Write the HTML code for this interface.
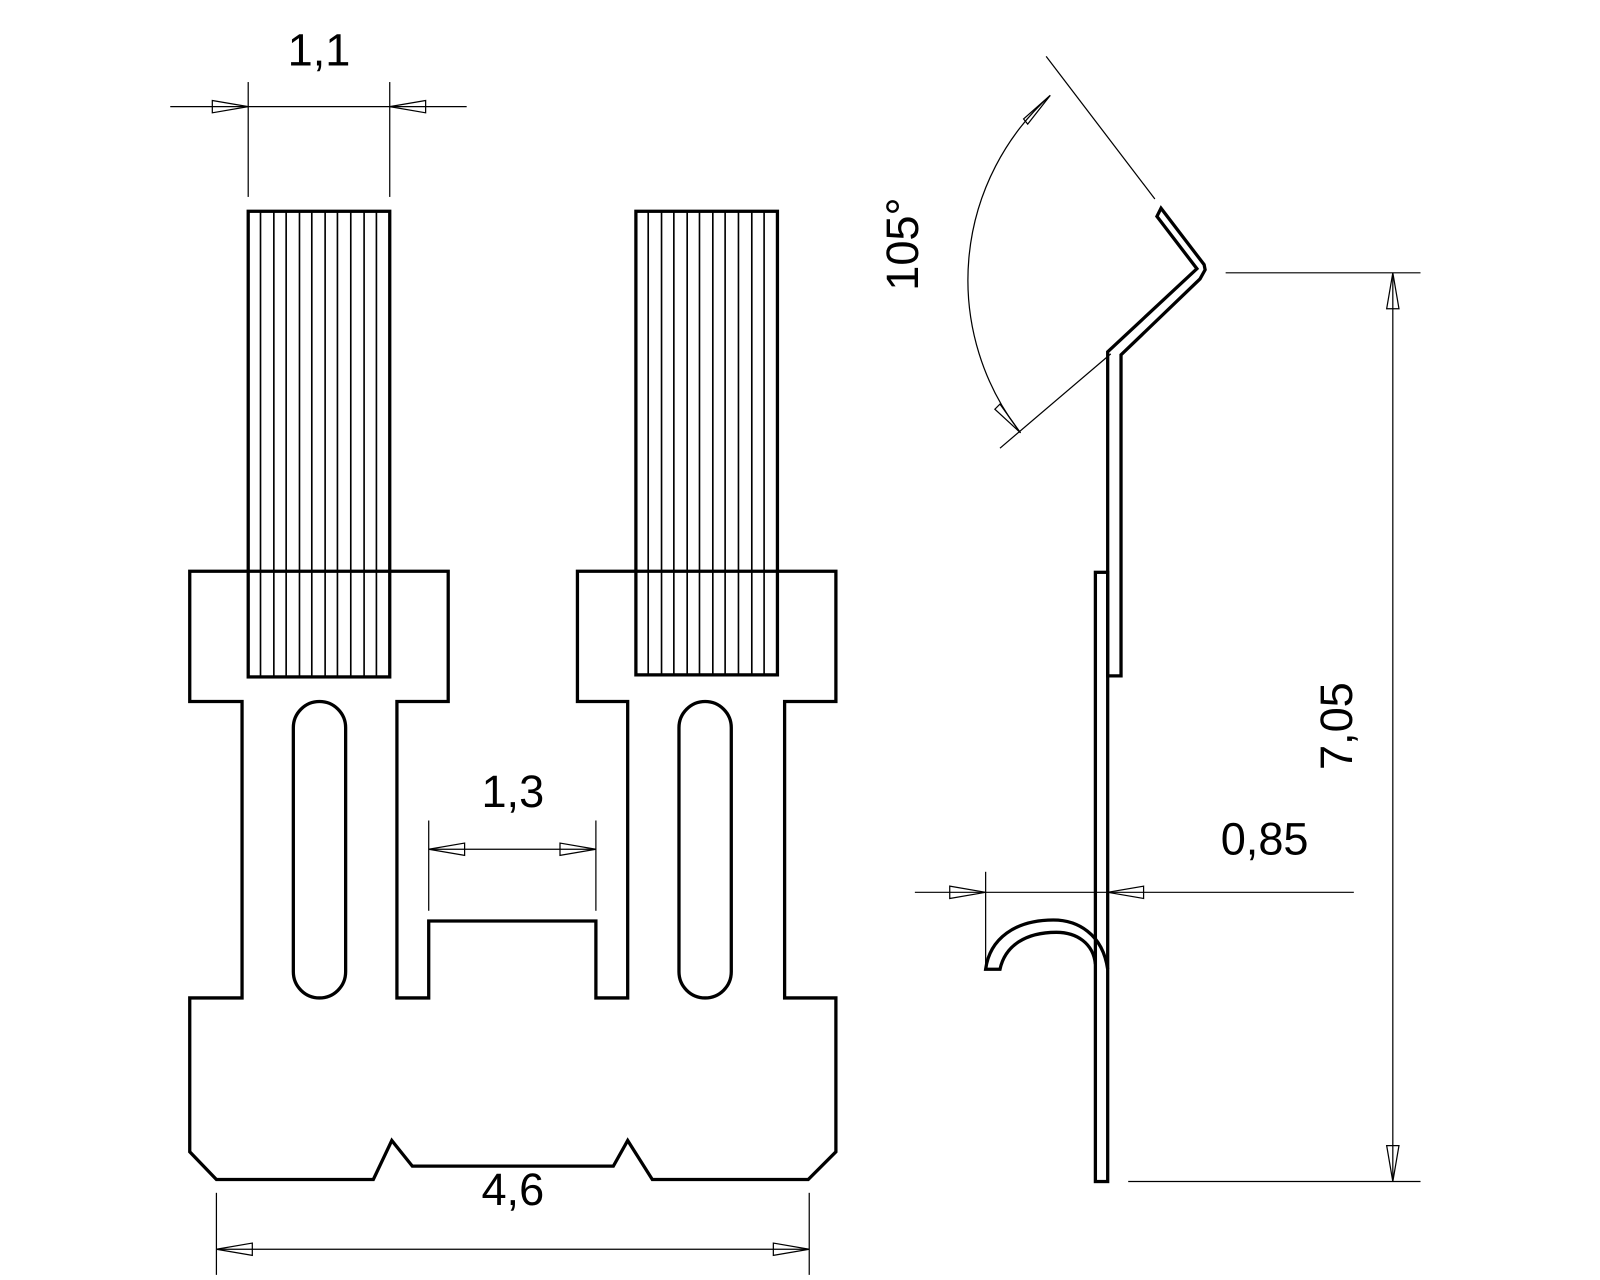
<!DOCTYPE html>
<html><head><meta charset="utf-8"><style>
html,body{margin:0;padding:0;background:#fff;}
svg{display:block;}
text{font-family:"Liberation Sans","DejaVu Sans",sans-serif;font-size:44px;fill:#000;}
</style></head><body>
<svg width="1600" height="1280" viewBox="0 0 1560 1248" xmlns="http://www.w3.org/2000/svg">
<g fill="none" stroke="#000" stroke-width="1.2">
<!-- dim 1,1 -->
<line x1="242" y1="80" x2="242" y2="192"/><line x1="380" y1="80" x2="380" y2="192"/>
<line x1="166" y1="104" x2="455" y2="104"/>
<polygon points="242,104 207,98 207,110"/><polygon points="380,104 415,98 415,110"/>
<!-- dim 1,3 -->
<line x1="418" y1="800" x2="418" y2="888"/><line x1="581" y1="800" x2="581" y2="888"/>
<line x1="418" y1="828" x2="581" y2="828"/>
<polygon points="418,828 453,822 453,834"/><polygon points="581,828 546,822 546,834"/>
<!-- dim 4,6 -->
<line x1="211" y1="1163" x2="211" y2="1243"/><line x1="789" y1="1163" x2="789" y2="1243"/>
<line x1="211" y1="1218" x2="789" y2="1218"/>
<polygon points="211,1218 246,1212 246,1224"/><polygon points="789,1218 754,1212 754,1224"/>
<!-- dim 0,85 -->
<line x1="961" y1="850" x2="961" y2="942"/>
<line x1="892" y1="870" x2="1320" y2="870"/>
<polygon points="961,870 926,864 926,876"/><polygon points="1080,870 1115,864 1115,876"/>
<!-- dim 7,05 -->
<line x1="1195" y1="266" x2="1385" y2="266"/><line x1="1100" y1="1152" x2="1385" y2="1152"/>
<line x1="1358" y1="266" x2="1358" y2="1152"/>
<polygon points="1358,266 1352,301 1364,301"/><polygon points="1358,1152 1352,1117 1364,1117"/>
<!-- angle 105 -->
<line x1="1020" y1="55" x2="1126" y2="194"/>
<line x1="1083" y1="345" x2="975" y2="437"/>
<path d="M 995 422 A 242 242 0 0 1 1024 93"/>
<polygon points="1024,93 998,116 1002,121"/>
<polygon points="995,422 975,394 970,399"/>
</g>
<g fill="none" stroke="#000" stroke-width="3.2" stroke-linejoin="miter">
<!-- tines -->
<rect x="242" y="206" width="138" height="454"/>
<rect x="620" y="206" width="138" height="452"/>
<!-- body -->
<path d="M185 557 L437 557 L437 684 L387 684 L387 973 L418 973 L418 898 L581 898 L581 973 L612 973 L612 684 L563 684 L563 557 L815 557 L815 684 L765 684 L765 973 L815 973 L815 1123 L788 1150 L636 1150 L612 1112 L598 1137 L402 1137 L382 1112 L364 1150 L211 1150 L185 1123 L185 973 L236 973 L236 684 L185 684 Z"/>
<rect x="286" y="684" width="51" height="289" rx="25.5" ry="25.5"/>
<rect x="662" y="684" width="51" height="289" rx="25.5" ry="25.5"/>
<!-- side profile -->
<polygon points="1128,211 1167,262 1080,343 1080,659 1093,659 1093,346 1170,272 1175,263 1174,258 1132,203"/>
<rect x="1068" y="558" width="12" height="594"/>
<path d="M 1080 945 C 1075 910 1050 897 1027 897 C 990 897 965 915 961 945 L 975 945 C 980 922 1000 909 1030 909 C 1050 909 1066 920 1068 940"/>
</g>
<g stroke="#000" stroke-width="1.6">
<line x1="254" y1="206" x2="254" y2="660"/><line x1="267" y1="206" x2="267" y2="660"/><line x1="279" y1="206" x2="279" y2="660"/><line x1="292" y1="206" x2="292" y2="660"/><line x1="304" y1="206" x2="304" y2="660"/><line x1="317" y1="206" x2="317" y2="660"/><line x1="329" y1="206" x2="329" y2="660"/><line x1="342" y1="206" x2="342" y2="660"/><line x1="355" y1="206" x2="355" y2="660"/><line x1="367" y1="206" x2="367" y2="660"/>
<line x1="632" y1="206" x2="632" y2="658"/><line x1="645" y1="206" x2="645" y2="658"/><line x1="657" y1="206" x2="657" y2="658"/><line x1="670" y1="206" x2="670" y2="658"/><line x1="682" y1="206" x2="682" y2="658"/><line x1="695" y1="206" x2="695" y2="658"/><line x1="707" y1="206" x2="707" y2="658"/><line x1="720" y1="206" x2="720" y2="658"/><line x1="733" y1="206" x2="733" y2="658"/><line x1="745" y1="206" x2="745" y2="658"/>
</g>
<text x="311" y="64" text-anchor="middle">1,1</text>
<text x="500" y="787" text-anchor="middle">1,3</text>
<text x="500" y="1175" text-anchor="middle">4,6</text>
<text x="1233" y="833" text-anchor="middle">0,85</text>
<text transform="translate(1318,708) rotate(-90)" text-anchor="middle">7,05</text>
<text transform="translate(895,238) rotate(-90)" text-anchor="middle">105°</text>
</svg>
</body></html>
